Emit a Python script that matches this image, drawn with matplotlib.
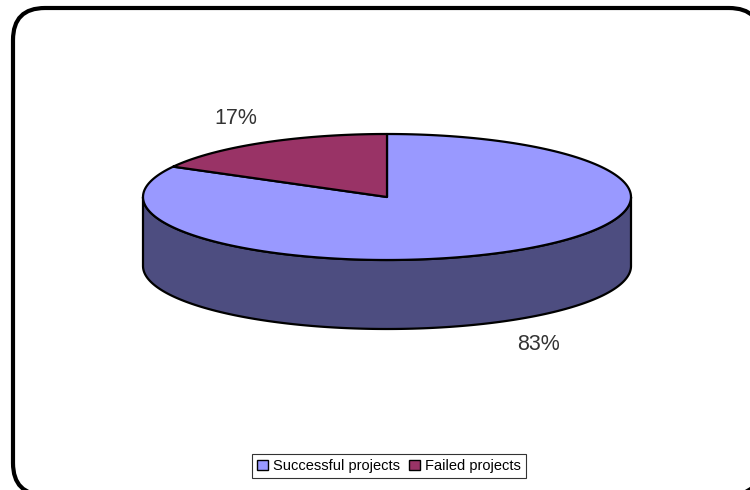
import numpy as np
import matplotlib.pyplot as plt
from matplotlib.patches import Polygon, FancyBboxPatch, Patch

plt.rcParams['font.family'] = ['Liberation Sans', 'DejaVu Sans']

labels = ["Successful projects", "Failed projects"]
shares = [83, 17]
top_colors = ["#9999FF", "#993366"]
side_colors = ["#4D4D80", "#4D1A33"]

fig = plt.figure(figsize=(7.5, 4.9), dpi=100)
ax = fig.add_axes([0, 0, 1, 1])
ax.set_xlim(0, 750)
ax.set_ylim(490, 0)
ax.axis('off')

# rounded chart-area frame
frame = FancyBboxPatch((13, 8), 748, 487, boxstyle="round,pad=0,rounding_size=32",
                       fc='white', ec='black', lw=3.0, zorder=0)
ax.add_patch(frame)

# 3D pie geometry (ellipse centre, radii, thickness)
cx, cy, rx, ry, depth = 387, 197, 244, 63, 69


def arc(t0, t1, dz=0.0, n=200):
    t = np.radians(np.linspace(t0, t1, n))
    return np.column_stack([cx + rx * np.cos(t), cy - ry * np.sin(t) + dz])


total = float(sum(shares))
spans = []
start = 90.0
for s in shares:
    end = start - s / total * 360.0
    spans.append((start, end))
    start = end

# side walls: only the front half of the ellipse (angles 180..360) is visible
for (a, b), col in zip(spans, side_colors):
    lo, hi = min(a, b), max(a, b)
    for k in (-1, 0, 1):
        f0, f1 = 180 + 360 * k, 360 + 360 * k
        s0, s1 = max(lo, f0), min(hi, f1)
        if s1 > s0:
            top = arc(s0, s1)
            bot = arc(s1, s0, depth)
            ax.add_patch(Polygon(np.vstack([top, bot]), closed=True, fc=col,
                                 ec='black', lw=1.6, joinstyle='round', zorder=1))

# top faces
for (a, b), col in zip(spans, top_colors):
    pts = np.vstack([[cx, cy], arc(a, b), [cx, cy]])
    ax.add_patch(Polygon(pts, closed=True, fc=col, ec='black', lw=1.6,
                         joinstyle='round', zorder=2))

# percentage labels
for (a, b), s in zip(spans, shares):
    m = np.radians((a + b) / 2)
    x = cx + 1.22 * rx * np.cos(m)
    y = cy - 1.45 * ry * np.sin(m) + (depth if np.sin(m) < 0 else 0)
    ax.text(x, y, f"{s}%", ha='center', va='center', fontsize=15.5,
            color='#333333', zorder=3)

handles = [Patch(fc=c, ec='black', lw=1.0) for c in top_colors]
leg = fig.legend(handles, labels, loc='center', bbox_to_anchor=(389 / 750, 1 - 466 / 490),
                 ncol=2, fontsize=10.5, frameon=True, fancybox=False, edgecolor='black',
                 handlelength=0.75, handleheight=0.75, handletextpad=0.35,
                 columnspacing=0.6, borderpad=0.35, borderaxespad=0)
leg.get_frame().set_linewidth(0.8)

fig.savefig('out.png', dpi=100)
